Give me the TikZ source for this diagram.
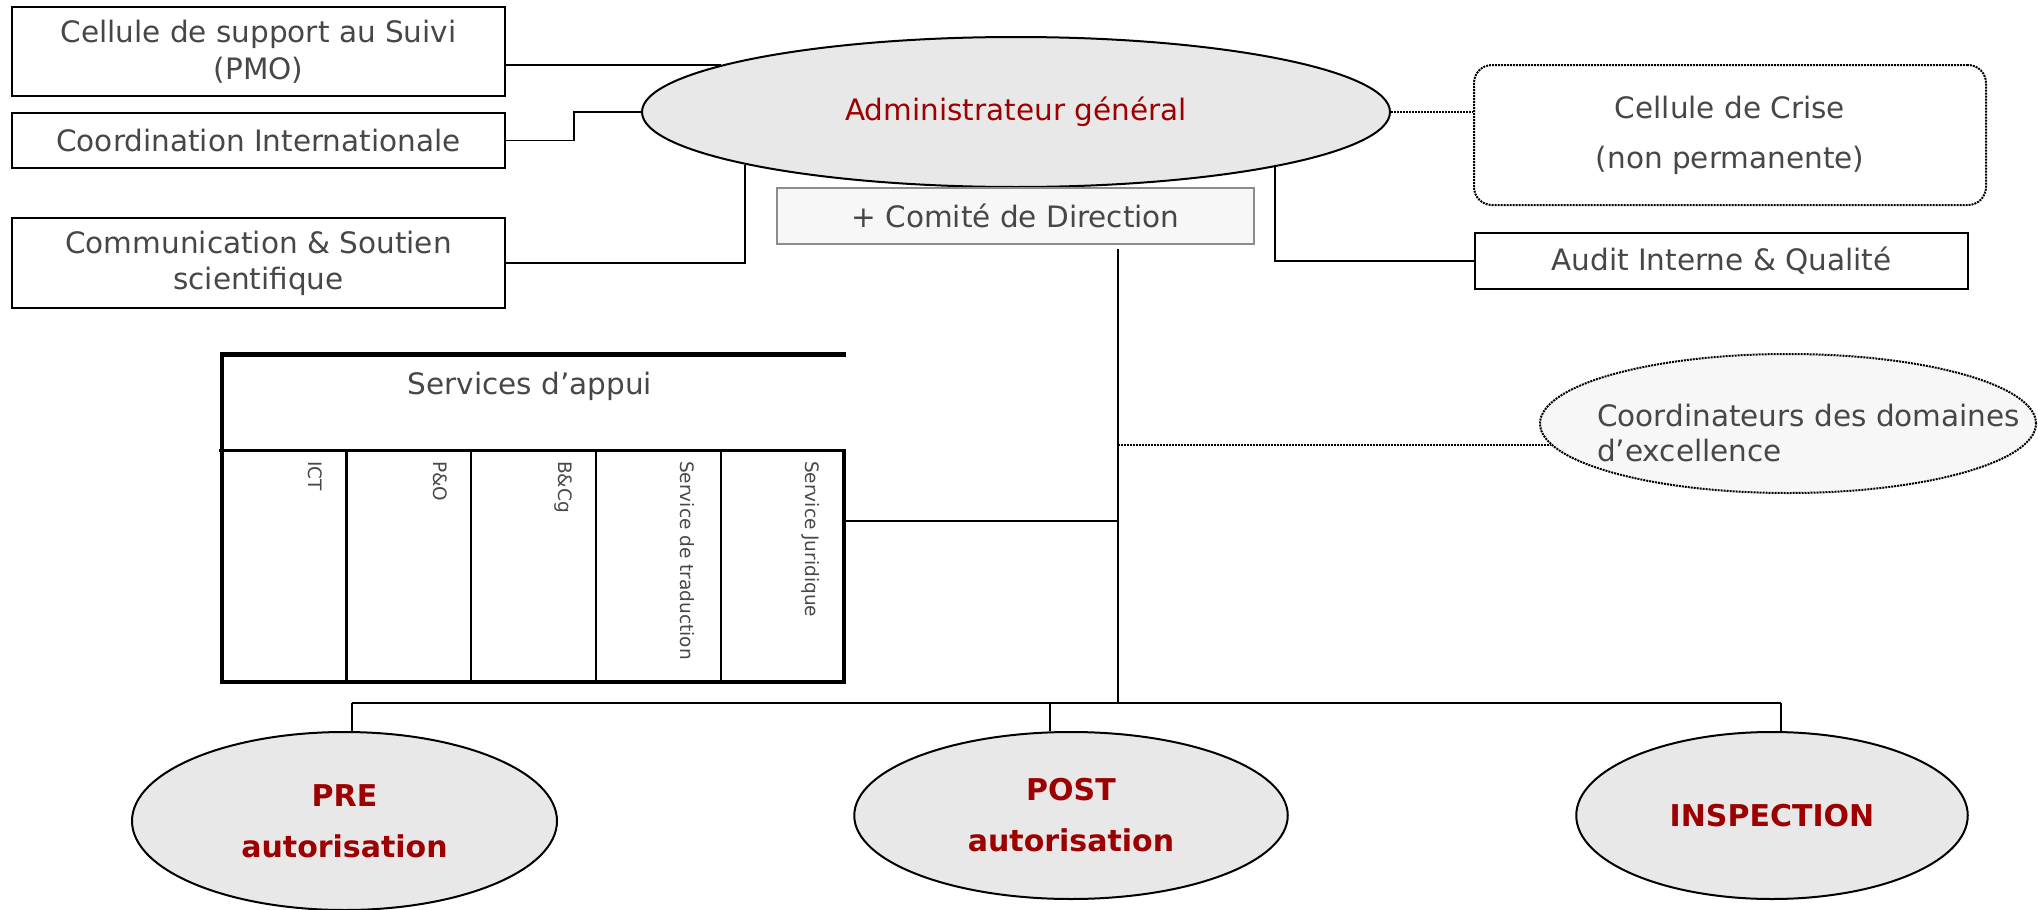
\documentclass[tikz,border=0pt]{standalone}
\usepackage{fontspec}
\setmainfont{DejaVu Sans}
\usetikzlibrary{shapes.geometric}
\definecolor{txt}{HTML}{474747}
\definecolor{dred}{HTML}{9C0000}
\definecolor{efill}{HTML}{E8E8E8}
\definecolor{lfill}{HTML}{F7F7F7}
\definecolor{gborder}{HTML}{8C8C8C}
\begin{document}
\begin{tikzpicture}[x=1pt,y=-1pt,
  mainfont/.style={font=\fontsize{29.5}{36}\selectfont},
  box/.style={draw=black, line width=2pt, rectangle, inner sep=0pt, align=center, text=txt, mainfont},
  oval/.style={draw=black, line width=2pt, ellipse, inner sep=0pt, fill=efill},
  bigoval/.style={oval, align=center, text=dred, font=\fontsize{30}{51}\selectfont\bfseries},
  conn/.style={line width=1.8pt},
  dotpat/.style={line width=2pt, dash pattern=on 2pt off 1pt},
  dotconn/.style={dotpat},
  thickln/.style={line width=4.5pt},
  midln/.style={line width=2.8pt},
  coltext/.style={rotate=-90, anchor=west, inner sep=0pt, text=txt, text height=13.5pt, text depth=0pt, font=\fontsize{18.5}{22}\selectfont}
]
\useasboundingbox (0,0) rectangle (2038,910);

% top-left boxes
\node[box, minimum width=493pt, minimum height=89pt] (pmo) at (258.5,51.5) {Cellule de support au Suivi\\[1pt](PMO)};
\node[box, minimum width=493pt, minimum height=55pt] (coord) at (258.5,140.5) {Coordination Internationale};
\node[box, minimum width=493pt, minimum height=90pt] (comm) at (258.5,263) {Communication \& Soutien\\scientifique};

% central ellipse
\node[oval, minimum width=748pt, minimum height=150pt, text=dred, mainfont] (admin) at (1016,112) {Administrateur général};
\node[draw=gborder, line width=2pt, fill=lfill, inner sep=0pt, minimum width=477pt, minimum height=56pt, text=txt, mainfont] (comite) at (1015.5,216) {+ Comité de Direction};

% right boxes
\node[draw=black, dotpat, rounded corners=18pt, inner sep=0pt, minimum width=512pt, minimum height=140pt, align=center, text=txt, mainfont] (crise) at (1730,135) {Cellule de Crise\\[14pt](non permanente)};
\node[box, minimum width=493pt, minimum height=56pt] (audit) at (1721.5,261) {Audit Interne \& Qualité};

% coordinators ellipse
\node[ellipse, draw=black, dotpat, fill=lfill, inner sep=0pt, minimum width=496pt, minimum height=139pt] (dom) at (1788,423.5) {};
\node[anchor=west, align=left, text=txt, inner sep=0pt, font=\fontsize{29.5}{35}\selectfont] (domtxt) at (1597,432.5) {Coordinateurs des domaines\\d’excellence};

% connectors to admin
\draw[conn] (admin.171.6) -- (admin.171.6 -| pmo.east);
\draw[conn] (coord.east) -- ++(68,0) |- (admin.west);
\draw[conn] (comm.east) -| (admin.191.3);
\draw[conn] (admin.348.7) |- (audit.west);
\draw[dotconn] (admin.east) -- (admin.east -| crise.west);

% trunk
\coordinate (tTop) at (1118,249);
\coordinate (tBot) at (1118,703);
\draw[conn] (tTop) -- (tBot);
\coordinate (dj) at (1118,445);
\draw[dotconn] (dj) -- (dj -| dom.185);

% services d'appui structure
\draw[thickln] (220,354.3) -- (846,354.3);
\draw[thickln] (222,352) -- (222,684);
\draw[thickln] (220,682) -- (846,682);
\draw[thickln] (844,449) -- (844,684);
\draw[midln] (219,450.7) -- (846,450.7);
\foreach \xx in {346.4,471,596,721} \draw[midln] (\xx,450) -- (\xx,682);
\node[text=txt, mainfont] (sapp) at (530,386) {Services d’appui};
\node[coltext] (ict) at (315,461) {ICT};
\node[coltext] (po) at (440,461) {P\&O};
\node[coltext] (bcg) at (565,461) {B\&Cg};
\node[coltext] (trad) at (687,461) {Service de traduction};
\node[coltext] (jur) at (812.5,461) {Service Juridique};
\coordinate (sj) at (846,521);
\draw[conn] (sj) -- (sj -| tTop);

% bottom ellipses
\node[bigoval, minimum width=425pt, minimum height=178pt] (pre) at (344.5,821) {PRE\\autorisation};
\node[bigoval, minimum width=433.5pt, minimum height=167pt] (post) at (1071,815.5) {POST\\autorisation};
\node[bigoval, minimum width=391.5pt, minimum height=167pt] (insp) at (1772,815.5) {INSPECTION};

% bus
\coordinate (bL) at (352,703);
\coordinate (bM) at (1050,703);
\coordinate (bR) at (1781,703);
\draw[conn] (bL) -- (bR);
\draw[conn] (bL) -- (bL |- pre.north);
\draw[conn] (bM) -- (bM |- post.north);
\draw[conn] (bR) -- (bR |- insp.north);
\end{tikzpicture}
\end{document}
